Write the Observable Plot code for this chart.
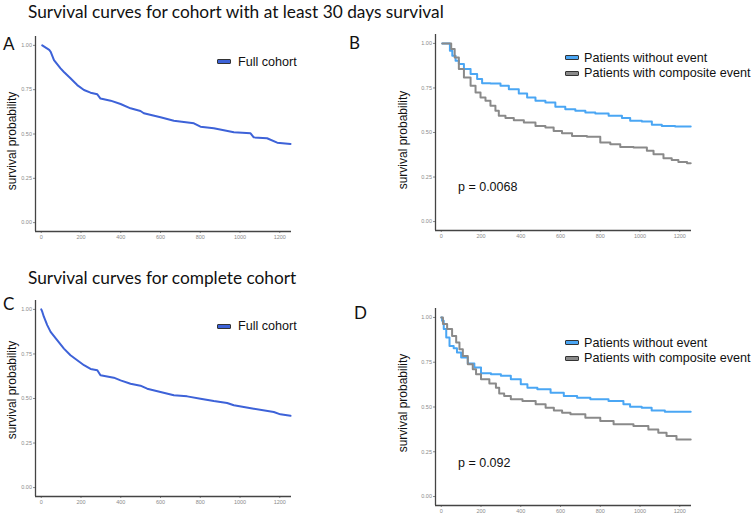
<!DOCTYPE html>
<html><head><meta charset="utf-8">
<script src="https://cdn.jsdelivr.net/npm/d3@7"></script>
<script src="https://cdn.jsdelivr.net/npm/@observablehq/plot@0.6"></script>
<style>
body{margin:0;background:#fff;}
#root{position:relative;width:753px;height:515px;overflow:hidden;background:#fff;font-family:"Liberation Sans",Arial,sans-serif;color:#111;}
.abs{position:absolute;white-space:nowrap;line-height:1;}
.title{font-family:Lato,"Open Sans",sans-serif;font-size:17.3px;color:#111;}
.letter{font-family:Lato,"Open Sans",sans-serif;font-size:17px;color:#111;}
.ytitle{font-size:12px;transform:translate(-50%,-50%) rotate(-90deg);}
.leg{font-size:12.6px;transform:translateY(-50%);}
.sw{position:absolute;width:12px;height:3px;border:1px solid #333;border-radius:1px;}
.pval{font-size:12.5px;transform:translateY(-50%);}
svg{position:absolute;}
</style></head>
<body><div id="root"></div>
<script>
// ---- data ----
const xTicks = [0, 200, 400, 600, 800, 1000, 1200];
const yTicks = [0, 0.25, 0.5, 0.75, 1];
const seriesNames = ["Full cohort", "Patients without event", "Patients with composite event"];
const titles = ["Survival curves for cohort with at least 30 days survival", "Survival curves for complete cohort"];
const panelLetters = ["A", "B", "C", "D"];
const pValues = ["p = 0.0068", "p = 0.092"];

// Panel A: full cohort, >=30 days survival
const timeA = [5, 40, 47, 64, 97, 114, 147, 181, 215, 248, 282, 298, 349, 399, 449, 499, 516, 600, 667, 768, 801, 868, 969, 1053, 1069, 1136, 1187, 1254];
const survA = [1, 0.975, 0.964, 0.917, 0.87, 0.85, 0.814, 0.776, 0.748, 0.733, 0.724, 0.70, 0.688, 0.669, 0.645, 0.63, 0.617, 0.594, 0.575, 0.56, 0.541, 0.532, 0.51, 0.504, 0.481, 0.476, 0.451, 0.444];

// Panel B
const timeBNo = [5, 40, 47, 64, 80, 97, 131, 164, 197, 214, 281, 315, 365, 415, 449, 499, 549, 599, 649, 700, 750, 800, 884, 934, 967, 1051, 1068, 1151, 1202, 1255];
const survBNo = [1, 1, 0.959, 0.931, 0.903, 0.884, 0.856, 0.828, 0.80, 0.777, 0.775, 0.762, 0.743, 0.719, 0.697, 0.678, 0.669, 0.644, 0.631, 0.622, 0.612, 0.607, 0.594, 0.581, 0.566, 0.562, 0.543, 0.536, 0.534, 0.534];
const timeBEv = [5, 45, 55, 80, 97, 131, 164, 181, 214, 231, 264, 281, 298, 348, 382, 449, 499, 549, 582, 633, 683, 783, 817, 884, 917, 1018, 1051, 1085, 1151, 1168, 1218, 1255];
const survBEv = [1, 1, 0.968, 0.921, 0.856, 0.809, 0.762, 0.725, 0.697, 0.678, 0.65, 0.622, 0.594, 0.581, 0.569, 0.556, 0.537, 0.528, 0.509, 0.496, 0.481, 0.476, 0.444, 0.434, 0.419, 0.416, 0.397, 0.378, 0.356, 0.345, 0.335, 0.328];

// Panel C: complete cohort
const timeC = [0, 5, 13, 30, 47, 80, 114, 147, 181, 215, 248, 282, 298, 365, 399, 449, 499, 533, 600, 667, 734, 801, 868, 935, 969, 1069, 1170, 1203, 1254];
const survC = [1, 0.987, 0.959, 0.912, 0.874, 0.827, 0.78, 0.743, 0.715, 0.687, 0.666, 0.659, 0.63, 0.617, 0.602, 0.583, 0.572, 0.555, 0.537, 0.518, 0.512, 0.499, 0.486, 0.475, 0.462, 0.443, 0.424, 0.411, 0.403];

// Panel D
const timeDNo = [0, 8, 17, 33, 50, 75, 83, 117, 150, 183, 217, 283, 317, 383, 417, 450, 517, 583, 650, 717, 783, 900, 933, 967, 1050, 1067, 1183, 1255];
const survDNo = [1, 0.981, 0.935, 0.888, 0.841, 0.828, 0.804, 0.776, 0.743, 0.72, 0.688, 0.683, 0.674, 0.655, 0.627, 0.608, 0.599, 0.58, 0.562, 0.552, 0.543, 0.534, 0.515, 0.502, 0.496, 0.481, 0.474, 0.474];
const timeDEv = [0, 17, 42, 67, 83, 100, 117, 150, 167, 183, 217, 267, 283, 300, 333, 367, 450, 500, 550, 583, 633, 667, 783, 817, 917, 1017, 1067, 1117, 1150, 1217, 1255];
const survDEv = [1, 0.963, 0.935, 0.897, 0.86, 0.823, 0.785, 0.739, 0.711, 0.683, 0.655, 0.631, 0.608, 0.575, 0.562, 0.543, 0.534, 0.515, 0.496, 0.481, 0.468, 0.459, 0.44, 0.422, 0.403, 0.394, 0.375, 0.356, 0.338, 0.319, 0.319];

const colors = {"Full cohort": "#3d62d8", "Patients without event": "#4aa6f4", "Patients with composite event": "#8a8a8a"};

const toRows = (t, s, name) => t.map((d, i) => ({t: d, s: s[i], name}));

const root = document.getElementById("root");
function addDiv(cls, text, left, top) {
  const d = document.createElement("div");
  d.className = "abs " + cls;
  d.textContent = text;
  d.style.left = left + "px";
  d.style.top = top + "px";
  root.appendChild(d);
  return d;
}

const xDomain = [-29, 1259];
const yDomain = [-0.05, 1.05];

function panel(series, left, top, height, curve) {
  const marks = [
    Plot.ruleX([xDomain[0]], {stroke: "#444", strokeWidth: 1.3}),
    Plot.ruleY([yDomain[0]], {stroke: "#444", strokeWidth: 1.3})
  ];
  for (const sr of series) {
    marks.push(Plot.line(sr, {x: "t", y: "s", stroke: d => colors[d.name], strokeWidth: 2, curve}));
  }
  const svg = Plot.plot({
    width: 296, height: height,
    marginLeft: 30, marginRight: 10, marginTop: 10, marginBottom: 20,
    x: {domain: xDomain, ticks: xTicks, tickSize: 2, tickPadding: 1.5, tickFormat: d => String(d), label: null},
    y: {domain: yDomain, ticks: yTicks, tickSize: 2, tickPadding: 1.5, tickFormat: d3.format(".2f"), label: null},
    style: {fontSize: "5.5px", color: "#8a8a8a", background: "transparent", fontFamily: "Liberation Sans, Arial, sans-serif"},
    marks
  });
  svg.style.left = left + "px";
  svg.style.top = top + "px";
  root.appendChild(svg);
}

panel([toRows(timeA, survA, seriesNames[0])], 5, 26.4, 225, "linear");
panel([toRows(timeBNo, survBNo, seriesNames[1]), toRows(timeBEv, survBEv, seriesNames[2])], 405, 23.8, 226, "step");
panel([toRows(timeC, survC, seriesNames[0])], 5, 290.4, 226, "linear");
panel([toRows(timeDNo, survDNo, seriesNames[1]), toRows(timeDEv, survDEv, seriesNames[2])], 405, 297.8, 227, "step");

// titles and letters
addDiv("title", titles[0], 28, 3);
addDiv("title", titles[1], 28, 269);
addDiv("letter", panelLetters[0], 3, 35);
addDiv("letter", panelLetters[1], 349, 34);
addDiv("letter", panelLetters[2], 3, 295);
addDiv("letter", panelLetters[3], 354, 304);

// y-axis titles
addDiv("ytitle", "survival probability", 11.5, 141);
addDiv("ytitle", "survival probability", 403, 140);
addDiv("ytitle", "survival probability", 11.5, 390);
addDiv("ytitle", "survival probability", 403, 403);

// legends
function legend(name, swx, swy, tx) {
  const s = document.createElement("div");
  s.className = "sw";
  s.style.left = swx + "px";
  s.style.top = (swy - 2.5) + "px";
  s.style.background = colors[name];
  root.appendChild(s);
  addDiv("leg", name, tx, swy);
}
legend(seriesNames[0], 217, 61.5, 238);
legend(seriesNames[0], 217, 326, 238);
legend(seriesNames[1], 565, 57.5, 584);
legend(seriesNames[2], 565, 73, 584);
legend(seriesNames[1], 565, 342.5, 584);
legend(seriesNames[2], 565, 358, 584);

addDiv("pval", pValues[0], 458, 187);
addDiv("pval", pValues[1], 458, 462.5);
</script></body></html>
